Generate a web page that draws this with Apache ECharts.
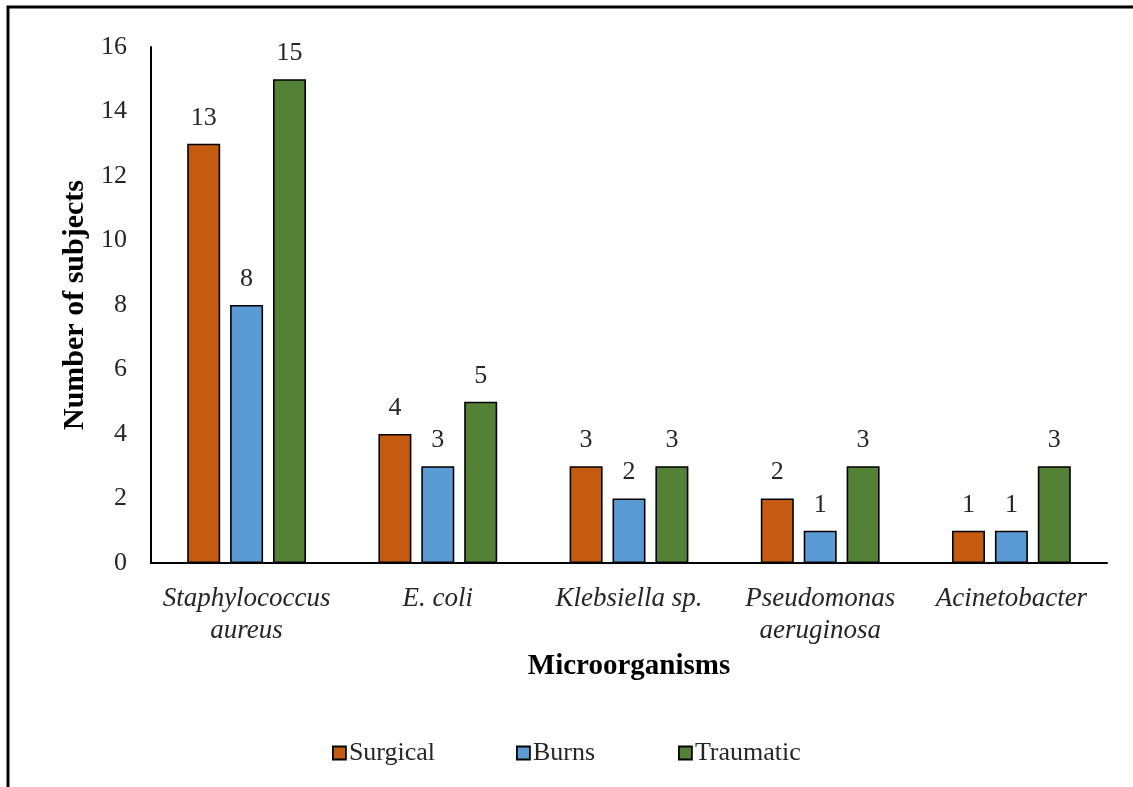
<!DOCTYPE html>
<html>
<head>
<meta charset="utf-8">
<script src="https://cdn.jsdelivr.net/npm/echarts@6/dist/echarts.min.js"></script>
<style>
  html, body { margin: 0; padding: 0; background: #fff; }
  #chart { width: 1133px; height: 787px; }
</style>
</head>
<body>
<div id="chart"></div>
<script>
// Microorganisms isolated per wound type
const categories = ['Staphylococcus\naureus', 'E. coli', 'Klebsiella sp.', 'Pseudomonas\naeruginosa', 'Acinetobacter'];
const surgical = [13, 4, 3, 2, 1];
const burns = [8, 3, 2, 1, 1];
const traumatic = [15, 5, 3, 3, 3];
const seriesNames = ['Surgical', 'Burns', 'Traumatic'];
const seriesColors = ['#C55A11', '#5B9BD5', '#538135'];
const yTicks = { min: 0, max: 16, interval: 2 };

const serif = '"Liberation Serif", "Times New Roman", serif';
const chart = echarts.init(document.getElementById('chart'), null, { renderer: 'canvas' });

function barSeries(name, data, color) {
  return {
    name: name,
    type: 'bar',
    data: data,
    barWidth: 33,
    barGap: '30%',
    itemStyle: { color: color, borderColor: '#000', borderWidth: 1.6 },
    label: {
      show: true,
      position: 'top',
      distance: 13,
      fontFamily: serif,
      fontSize: 26,
      color: '#262626'
    }
  };
}

// one legend block per series, laid out in fixed slots along the bottom
const legendLeft = [327, 511, 673];
const legends = seriesNames.map((n, i) => ({
  data: [n],
  left: legendLeft[i],
  top: 735,
  itemWidth: 13,
  itemHeight: 13,
  icon: 'rect',
  textStyle: { fontFamily: serif, fontSize: 26, color: '#262626', padding: [0, 0, 0, -2] },
  itemStyle: { borderColor: '#000', borderWidth: 1.8 }
}));

chart.setOption({
  animation: false,
  backgroundColor: '#fff',
  graphic: [{
    type: 'rect',
    shape: { x: 8, y: 7, width: 1200, height: 900 },
    style: { fill: 'none', stroke: '#000', lineWidth: 3 },
    z: 100
  }],
  grid: { left: 151, right: 26, top: 47, bottom: 224 },
  legend: legends,
  xAxis: {
    type: 'category',
    data: categories,
    name: 'Microorganisms',
    nameLocation: 'middle',
    nameGap: 88,
    nameTextStyle: { fontFamily: serif, fontSize: 29, fontWeight: 'bold', color: '#000' },
    axisLine: { lineStyle: { color: '#000', width: 2 } },
    axisTick: { show: false },
    axisLabel: {
      interval: 0,
      margin: 20,
      fontFamily: serif,
      fontStyle: 'italic',
      fontSize: 27,
      lineHeight: 32,
      color: '#262626'
    }
  },
  yAxis: {
    type: 'value',
    min: yTicks.min,
    max: yTicks.max,
    interval: yTicks.interval,
    name: 'Number of subjects',
    nameLocation: 'middle',
    nameGap: 61,
    nameTextStyle: { fontFamily: serif, fontSize: 30, fontWeight: 'bold', color: '#000' },
    axisLine: { show: true, lineStyle: { color: '#000', width: 2 } },
    axisTick: { show: false },
    splitLine: { show: false },
    axisLabel: { margin: 24, fontFamily: serif, fontSize: 26, color: '#262626' }
  },
  series: [
    barSeries(seriesNames[0], surgical, seriesColors[0]),
    barSeries(seriesNames[1], burns, seriesColors[1]),
    barSeries(seriesNames[2], traumatic, seriesColors[2])
  ]
});
</script>
</body>
</html>
